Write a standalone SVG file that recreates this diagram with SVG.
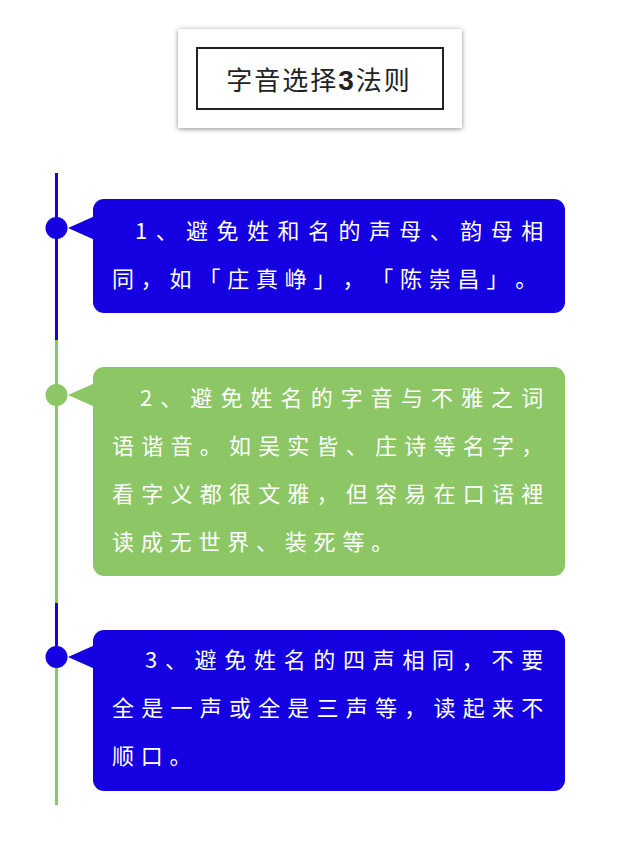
<svg xmlns="http://www.w3.org/2000/svg" width="640" height="855" viewBox="0 0 640 855">
<defs>
<filter id="sh" x="-10%" y="-20%" width="120%" height="140%">
<feDropShadow dx="0" dy="1" stdDeviation="2.5" flood-color="#000" flood-opacity="0.45"/>
</filter>
<style>
.t{font-family:"Noto Sans CJK SC","Noto Sans",sans-serif;font-size:22px;fill:#fff;letter-spacing:6.8px;text-spacing-trim:space-all}
.title{font-family:"Noto Sans CJK SC","Noto Sans",sans-serif;font-size:26px;fill:#222;letter-spacing:2px}
.blue{fill:#1400E0}
.green{fill:#8CC665}
</style>
</defs>
<rect width="640" height="855" fill="#fff"/>
<g id="title">
<rect x="178" y="29" width="284" height="99" fill="#fff" filter="url(#sh)"/>
<rect x="197" y="48" width="246" height="61" fill="none" stroke="#222" stroke-width="2"/>
<text class="title" x="319" y="90" text-anchor="middle">字音选择<tspan font-family="Liberation Sans, sans-serif" font-weight="bold" font-size="28">3</tspan>法则</text>
</g>
<g id="connectors">
<rect x="55" y="173" width="3" height="167" fill="#1400E0"/>
<rect x="55" y="340" width="3" height="263" fill="#8CC665"/>
<rect x="55" y="603" width="3" height="65" fill="#1400E0"/>
<rect x="55" y="668" width="3" height="137" fill="#8CC665"/>
</g>
<g id="node1">
<circle class="blue" cx="56.5" cy="228" r="11"/>
<polygon class="blue" points="68,228 95,216 95,240"/>
<rect class="blue" x="93" y="199" width="472" height="114" rx="11"/>
<text class="t" x="135" y="239" textLength="415" lengthAdjust="spacing">1、避免姓和名的声母、韵母相</text>
<text class="t" x="112" y="287" letter-spacing="6">同，如「庄真峥」，「陈崇昌」。</text>
</g>
<g id="node2">
<circle class="green" cx="56.5" cy="395" r="11"/>
<polygon class="green" points="68,395 95,383 95,407"/>
<rect class="green" x="93" y="367" width="472" height="209" rx="11"/>
<text class="t" x="140" y="406" textLength="410" lengthAdjust="spacing">2、避免姓名的字音与不雅之词</text>
<text class="t" x="112" y="454" textLength="438" lengthAdjust="spacing">语谐音。如吴实皆、庄诗等名字，</text>
<text class="t" x="112" y="502" textLength="438" lengthAdjust="spacing">看字义都很文雅，但容易在口语裡</text>
<text class="t" x="112" y="550">读成无世界、装死等。</text>
</g>
<g id="node3">
<circle class="blue" cx="56.5" cy="657" r="11"/>
<polygon class="blue" points="68,657 95,645 95,669"/>
<rect class="blue" x="93" y="630" width="472" height="161" rx="11"/>
<text class="t" x="145" y="668" textLength="405" lengthAdjust="spacing">3、避免姓名的四声相同，不要</text>
<text class="t" x="112" y="716" textLength="438" lengthAdjust="spacing">全是一声或全是三声等，读起来不</text>
<text class="t" x="112" y="764">顺口。</text>
</g>
</svg>
